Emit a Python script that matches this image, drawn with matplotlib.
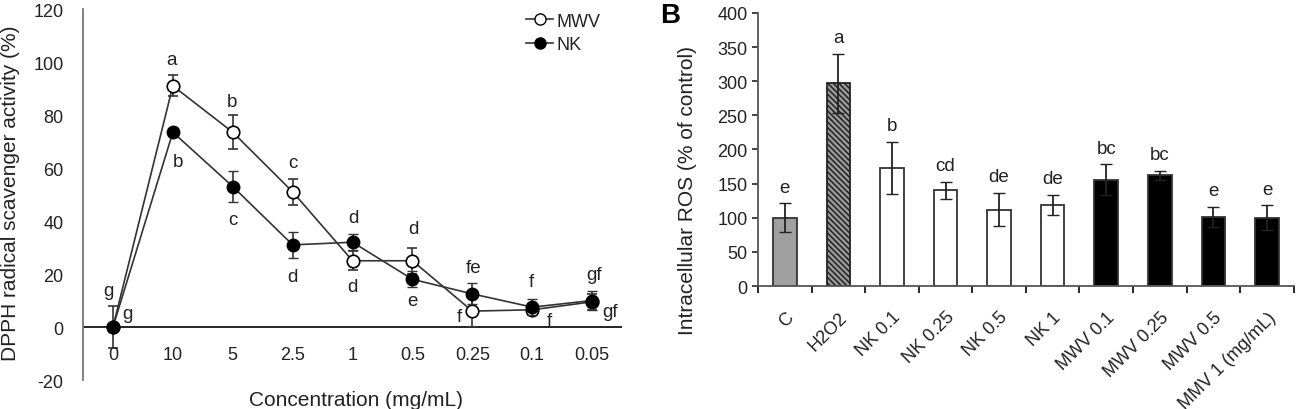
import numpy as np
import matplotlib
matplotlib.use('Agg')
from matplotlib import pyplot as plt
from matplotlib import transforms
from matplotlib.lines import Line2D

plt.rcParams['font.family'] = ['Liberation Sans', 'DejaVu Sans']
plt.rcParams['hatch.linewidth'] = 1.1
plt.rcParams['axes.unicode_minus'] = False

# Panel A - DPPH
conc = ['0', '10', '5', '2.5', '1', '0.5', '0.25', '0.1', '0.05']
mwv = [0, 91, 73.5, 51, 25, 25, 6, 6.5, 9.5]
mwv_err = [8, 4, 6.5, 5, 3.5, 5, 6, 2, 3]
nk = [0, 73.5, 53, 31, 32, 18, 12.5, 7.5, 10]
nk_err = [0, 1.5, 6, 5, 3, 3, 4, 3, 3.5]
lab_up = ['g', 'a', 'b', 'c', 'd', 'd', 'fe', 'f', 'gf']
lab_dn = ['g', 'b', 'c', 'd', 'd', 'e', 'f', 'f', 'gf']

# Panel B - ROS
groups = ['C', 'H2O2', 'NK 0.1', 'NK 0.25', 'NK 0.5', 'NK 1',
          'MWV 0.1', 'MWV 0.25', 'MWV 0.5', 'MMV 1 (mg/mL)']
ros = [100, 297, 173, 140, 112, 119, 156, 162, 101, 100]
ros_err = [21, 43, 38, 12, 24, 15, 22, 6, 15, 18]
ros_lab = ['e', 'a', 'b', 'cd', 'de', 'de', 'bc', 'bc', 'e', 'e']

fig = plt.figure(figsize=(12.99, 4.10), dpi=100)
txt = '#222222'

# ---------------- A ----------------
ax = fig.add_axes([0.0639, 0.0707, 0.4150, 0.9049])
x = np.arange(len(conc))
ax.errorbar(x, mwv, yerr=mwv_err, color='#333333', lw=1.2, marker='o', ms=9,
            mfc='white', mec='black', mew=1.2, capsize=3.5, elinewidth=1.2, zorder=3)
ax.errorbar(x, nk, yerr=nk_err, color='#333333', lw=1.2, marker='o', ms=9,
            mfc='black', mec='black', capsize=3.5, elinewidth=1.2, zorder=4)
ax.axhline(0, color='black', lw=1.2, zorder=1)
ax.set_xlim(-0.5, 8.5)
ax.set_ylim(-20, 120)
ax.set_yticks(np.arange(-20, 121, 20))
ax.set_xticks([])
for s in ['top', 'right', 'bottom']:
    ax.spines[s].set_visible(False)
ax.spines['left'].set_color('#777777')
ax.spines['left'].set_linewidth(1.3)
ax.tick_params(axis='y', length=0, labelsize=13, pad=14, colors=txt)
for i, c in enumerate(conc):
    ax.text(i, -10.2, c, ha='center', va='center', fontsize=13, color=txt)
ax.set_ylabel('DPPH radical scavenger activity (%)', fontsize=15, color=txt)
ax.yaxis.set_label_coords(-0.117, 0.507)
ax.text(4.05, -27.3, 'Concentration (mg/mL)', ha='center', va='center', fontsize=15,
        color=txt, clip_on=False)

# letters
up_pos = [(-0.08, 13.6), (0.98, 100.8), (1.98, 85), (3, 62), (4.02, 41.5), (5.02, 37),
          (6.02, 22.6), (6.98, 17), (8.03, 20)]
dn_pos = [(0.25, 5), (1.08, 62.6), (2, 40.7), (3, 19), (4, 15.4), (5, 10),
          (5.78, 3.8), (7.28, 2.3), (8.3, 5.7)]
for (px, py), t in zip(up_pos, lab_up):
    ax.text(px, py, t, ha='center', va='center', fontsize=13.5, color=txt)
for (px, py), t in zip(dn_pos, lab_dn):
    ax.text(px, py, t, ha='center', va='center', fontsize=13.5, color=txt)

handles = [Line2D([], [], color='#333333', lw=1.2, marker='o', ms=8, mfc='white', mec='black'),
           Line2D([], [], color='#333333', lw=1.2, marker='o', ms=8, mfc='black', mec='black')]
ax.legend(handles, ['MWV', 'NK'], loc='upper left', bbox_to_anchor=(0.822, 0.99),
          frameon=False, fontsize=13, handlelength=1.5, handletextpad=0.2,
          labelspacing=0.35, borderaxespad=0, borderpad=0, labelcolor=txt)

# ---------------- B ----------------
bx = fig.add_axes([0.5835, 0.30, 0.4125, 0.666])
xb = np.arange(len(groups))
faces = ['#a0a0a0', '#9a9a9a', 'white', 'white', 'white', 'white', 'black', 'black', 'black', 'black']
bars = bx.bar(xb, ros, width=0.44, color=faces, edgecolor='#333333', linewidth=1.3, zorder=2)
bars[1].set_hatch('\\\\\\\\\\\\')
bars[1].set_edgecolor('#222222')
bx.errorbar(xb, ros, yerr=ros_err, fmt='none', ecolor='#222222', elinewidth=1.3,
            capsize=4, zorder=3)
for i, t in enumerate(ros_lab):
    bx.text(i, ros[i] + ros_err[i] + 24, t, ha='center', va='center', fontsize=13.5, color=txt)
bx.set_xlim(-0.5, 9.5)
bx.set_ylim(0, 400)
bx.set_yticks(np.arange(0, 401, 50))
bx.set_xticks(xb)
bx.set_xticklabels(groups, rotation=45, ha='right', rotation_mode='anchor', fontsize=13, color=txt)
shift = transforms.ScaledTranslation(-0.06, 0, fig.dpi_scale_trans)
for lb in bx.get_xticklabels():
    lb.set_transform(lb.get_transform() + shift)
bx.set_xticks(np.arange(-0.5, 10, 1), minor=True)
bx.tick_params(axis='x', which='major', length=0, pad=16)
bx.tick_params(axis='x', which='minor', length=5, width=1.2, direction='out')
bx.tick_params(axis='y', length=4, width=1.2, labelsize=13, colors=txt)
for s in ['top', 'right']:
    bx.spines[s].set_visible(False)
for s in ['left', 'bottom']:
    bx.spines[s].set_color('#555555')
    bx.spines[s].set_linewidth(1.3)
bx.set_ylabel('Intracellular ROS (% of control)', fontsize=15, color=txt)
bx.yaxis.set_label_coords(-0.114, 0.355)
fig.text(0.5158, 0.962, 'B', fontsize=20, fontweight='bold', ha='center', va='center')

fig.savefig('out.png', dpi=100)
